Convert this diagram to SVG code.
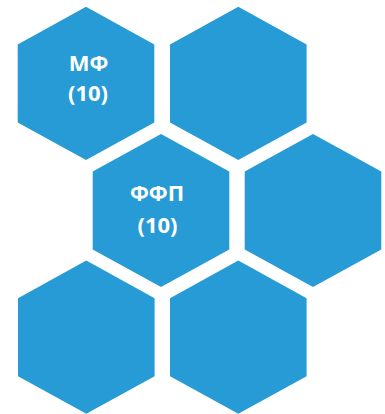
<svg xmlns="http://www.w3.org/2000/svg" width="385" height="414" viewBox="0 0 385 414">
<style>
.hex{fill:#279bd5}
.t{fill:#ffffff;font-family:"Open Sans","DejaVu Sans",sans-serif;font-weight:700;font-size:22px;text-anchor:middle}
</style>
<defs>
<polygon id="h" points="0,-76.6 68.3,-39 68.3,39 0,76.6 -68.3,39 -68.3,-39"/>
</defs>
<rect width="385" height="414" fill="#ffffff"/>
<g id="connectors"/>
<g id="hex1"><use href="#h" class="hex" x="86" y="83.4"/><text class="t" x="88.5" y="70.5">МФ</text><text class="t" x="88" y="100.5">(10)</text></g>
<g id="hex2"><use href="#h" class="hex" x="238.3" y="83.4"/></g>
<g id="hex3"><use href="#h" class="hex" x="161" y="210.5"/><text class="t" x="157" y="201">ФФП</text><text class="t" x="157.5" y="233">(10)</text></g>
<g id="hex4"><use href="#h" class="hex" x="313" y="210.5"/></g>
<g id="hex5"><use href="#h" class="hex" x="86.3" y="337.2"/></g>
<g id="hex6"><use href="#h" class="hex" x="238.3" y="337.2"/></g>
</svg>
